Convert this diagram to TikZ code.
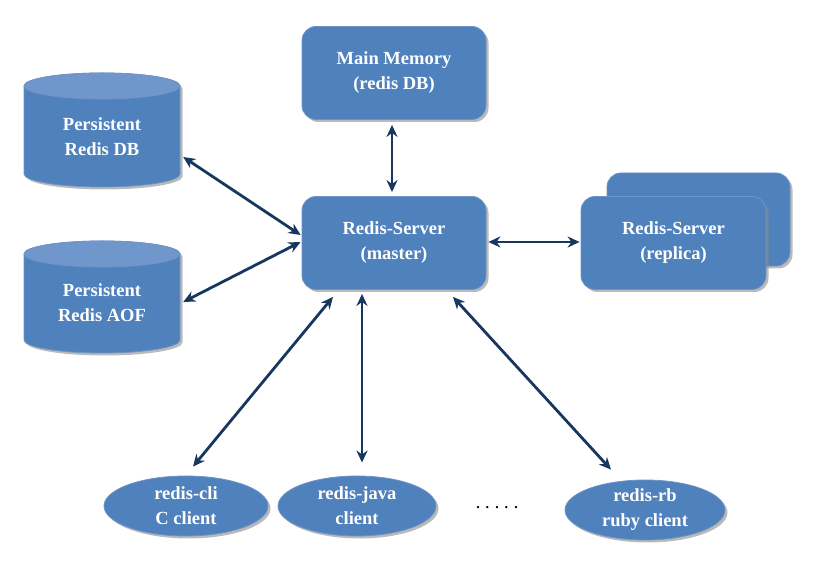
\documentclass[tikz,border=0pt]{standalone}
\usepackage{fontspec}
\setmainfont{Liberation Serif}
\usetikzlibrary{shadows,calc,arrows.meta,shapes.geometric}
\definecolor{boxblue}{HTML}{4F81BD}
\definecolor{topblue}{HTML}{7097CB}
\definecolor{edgeblue}{HTML}{6F93C6}
\definecolor{arrowc}{HTML}{17375E}
\tikzset{
  shd/.style={drop shadow={shadow xshift=2.5pt,shadow yshift=-2.5pt,fill=black!45,opacity=.6}},
  txt/.style={text=white,font=\fontsize{18.5}{25}\selectfont\bfseries,align=center},
  rbox/.style={rectangle,rounded corners=14pt,fill=boxblue,draw=edgeblue,line width=.8pt,
    minimum width=184pt,minimum height=93pt,shd,txt},
  client/.style={ellipse,fill=boxblue,draw=edgeblue,line width=.8pt,minimum height=60pt,inner sep=0pt,shd,txt},
  link/.style={draw=arrowc,line width=2.8pt,{Stealth[length=12pt,width=11pt]}-{Stealth[length=12pt,width=11pt]}},
}
\newcommand{\cyl}[4]{% name, cx, top-ellipse y, bottom-ellipse y
  \path[fill=boxblue,draw=edgeblue,line width=.8pt,shd]
    (#2-78,#3) -- (#2-78,#4) arc[start angle=180,end angle=360,x radius=78,y radius=13]
    -- (#2+78,#3) arc[start angle=0,end angle=180,x radius=78,y radius=13] -- cycle;
  \path[fill=topblue,draw=edgeblue,line width=.8pt] (#2,#3) ellipse[x radius=78,y radius=13];
  \node[minimum width=156pt,minimum height={#3-#4+26}] (#1) at (#2,{(#3+#4)/2}) {};
}
\begin{document}
\begin{tikzpicture}[x=1pt,y=1pt]
\useasboundingbox (0,0) rectangle (817,577);
% servers
\node[rbox] (mem) at (394,504) {Main Memory\\(redis DB)};
\node[rbox] (master) at (394,334) {Redis-Server\\(master)};
\node[rbox,minimum width=183pt] (replicaback) at (698.5,357.5) {};
\node[rbox,minimum width=185pt] (replica) at (673.5,334) {Redis-Server\\(replica)};
% storage
\cyl{db}{102}{491}{403}
\node[txt] (dbtext) at (102,440) {Persistent\\Redis DB};
\cyl{aof}{102}{323}{237}
\node[txt] (aoftext) at (102,274) {Persistent\\Redis AOF};
% clients
\node[client,minimum width=164pt] (cli) at (186,71) {redis-cli\\C client};
\node[client,minimum width=158pt] (java) at (357,71) {redis-java\\client};
\node[client,minimum width=160pt] (rb) at (645,67) {redis-rb\\ruby client};
\node[font=\fontsize{14}{14}\selectfont\bfseries] (dots) at (497,69) {.\hspace{6pt}.\hspace{6pt}.\hspace{6pt}.\hspace{6pt}.};
% connectors
\draw[link] ($(mem.south)+(-2,-5)$) -- ($(master.north)+(-2,4)$);
\draw[link] ($(db.east)+(3,-27)$) -- ($(master.west)+(-1,8)$);
\draw[link] ($(aof.east)+(3,-5)$) -- ($(master.west)+(-1,1)$);
\draw[link] ($(master.east)+(2,1)$) -- ($(replica.west)+(-1,1)$);
\draw[link] ($(master.south)+(-61,-7)$) -- ($(cli.north)+(7,9)$);
\draw[link] ($(master.south)+(-32,-4)$) -- ($(java.north)+(5,13)$);
\draw[link] ($(master.south)+(59,-7)$) -- ($(rb.north)+(-34,10)$);
\end{tikzpicture}
\end{document}
